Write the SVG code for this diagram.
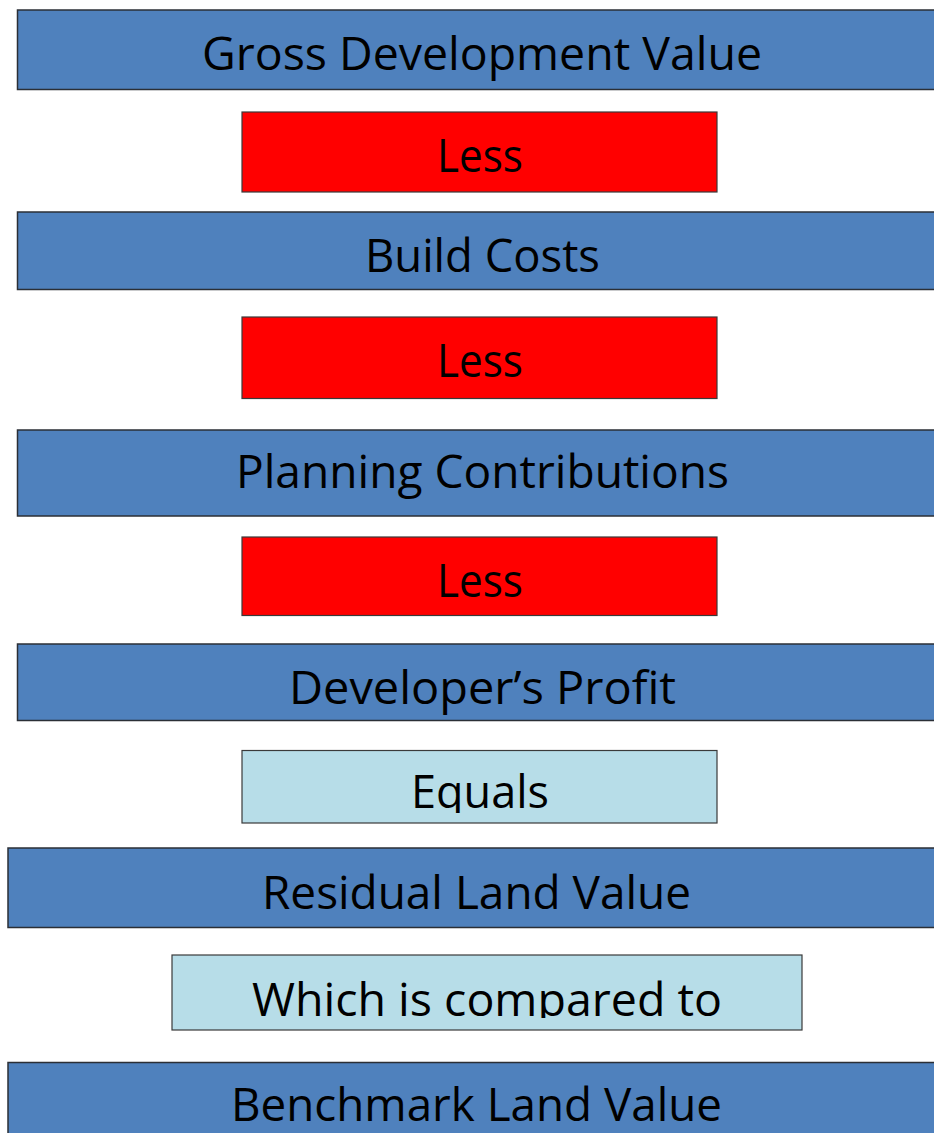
<svg xmlns="http://www.w3.org/2000/svg" width="934" height="1133" viewBox="0 0 934 1133">
<style>
.blue{fill:#4F81BD;stroke:#2b2f36;stroke-width:1.5}
.red{fill:#FF0000;stroke:#3a3a3a;stroke-width:1.2}
.light{fill:#B7DDE8;stroke:#3a3a3a;stroke-width:1.2}
.t{font-family:"Open Sans","Liberation Sans",sans-serif;fill:#000;font-size:45px}
</style>
<defs>
<clipPath id="clipEq"><rect x="242" y="750" width="475" height="63"/></clipPath>
<clipPath id="clipWh"><rect x="172" y="955" width="630" height="63"/></clipPath>
</defs>
<rect width="934" height="1133" fill="#ffffff"/>
<g id="n-gdv"><rect class="blue" x="17.5" y="10" width="1000" height="79.5"/><text class="t" x="202" y="70" textLength="560" lengthAdjust="spacingAndGlyphs">Gross Development Value</text></g>
<g id="n-less1"><rect class="red" x="242" y="112" width="475" height="80"/><text class="t" x="437" y="172" font-size="47" textLength="86" lengthAdjust="spacingAndGlyphs">Less</text></g>
<g id="n-build"><rect class="blue" x="17.5" y="212" width="1000" height="77.5"/><text class="t" x="365" y="272" textLength="235" lengthAdjust="spacingAndGlyphs">Build Costs</text></g>
<g id="n-less2"><rect class="red" x="242" y="317" width="475" height="81.5"/><text class="t" x="437" y="377" font-size="47" textLength="86" lengthAdjust="spacingAndGlyphs">Less</text></g>
<g id="n-planning"><rect class="blue" x="17.5" y="430" width="1000" height="86"/><text class="t" x="236" y="488" textLength="493" lengthAdjust="spacingAndGlyphs">Planning Contributions</text></g>
<g id="n-less3"><rect class="red" x="242" y="537" width="475" height="78.5"/><text class="t" x="437" y="597" font-size="47" textLength="86" lengthAdjust="spacingAndGlyphs">Less</text></g>
<g id="n-profit"><rect class="blue" x="17.5" y="644" width="1000" height="76.5"/><text class="t" x="289" y="704" textLength="387" lengthAdjust="spacingAndGlyphs">Developer’s Profit</text></g>
<g id="n-equals"><rect class="light" x="242" y="750.5" width="475" height="72.5"/><text class="t" x="411" y="808" clip-path="url(#clipEq)" textLength="138" lengthAdjust="spacingAndGlyphs">Equals</text></g>
<g id="n-residual"><rect class="blue" x="8" y="848" width="1000" height="79.5"/><text class="t" x="262" y="909" font-size="48" textLength="429" lengthAdjust="spacingAndGlyphs">Residual Land Value</text></g>
<g id="n-which"><rect class="light" x="172" y="955" width="630" height="75"/><text class="t" x="252" y="1016" font-size="48" clip-path="url(#clipWh)" textLength="470" lengthAdjust="spacingAndGlyphs">Which is compared to</text></g>
<g id="n-benchmark"><rect class="blue" x="8" y="1062.5" width="1000" height="100"/><text class="t" x="231" y="1121" font-size="45" textLength="491" lengthAdjust="spacingAndGlyphs">Benchmark Land Value</text></g>
<g id="connectors"></g>
</svg>
